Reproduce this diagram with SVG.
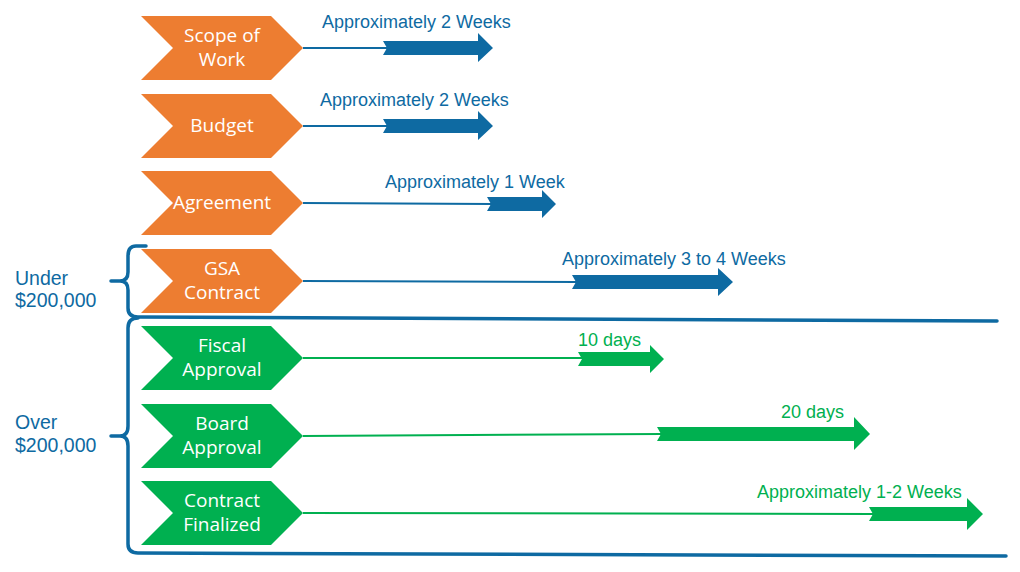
<svg xmlns="http://www.w3.org/2000/svg" width="1020" height="572" viewBox="0 0 1020 572">
<defs>
<style>
.chev-o{fill:#ed7d31}
.chev-g{fill:#00b050}
.ctext{font-family:"Open Sans","Noto Sans","Liberation Sans",sans-serif;font-size:19px;fill:#ffffff;text-anchor:middle}
.lab{font-family:"Liberation Sans",Arial,sans-serif;font-size:18px}
.blue{fill:#0e6aa2}
.green{fill:#00b050}
.lb{stroke:#0e6aa2;stroke-width:2;fill:none}
.lg{stroke:#00b050;stroke-width:2;fill:none}
.br{stroke:#0e6aa2;stroke-width:3.5;fill:none;stroke-linecap:round;stroke-linejoin:round}
.side{font-family:"Liberation Sans",Arial,sans-serif;font-size:19.5px;fill:#0e6aa2}
</style>
</defs>
<rect width="1020" height="572" fill="#ffffff"/>

<g id="brackets">
<path class="br" d="M146,246 L136,246 Q128,246 128,256 L128,272 Q128,281 120,281 L111,281 M120,281 Q128,281 128,290 L128,308 Q128,317 138,317 L997,321"/>
<path class="br" d="M138,318 Q128,318 128,328 L128,426 Q128,436 120,436 L111,436 M120,436 Q128,436 128,446 L128,544 Q128,553 138,553 L1006,556"/>
</g>

<g id="side-labels">
<text class="side" x="15" y="285">Under</text>
<text class="side" x="15" y="307">$200,000</text>
<text class="side" x="15" y="429">Over</text>
<text class="side" x="15" y="452">$200,000</text>
</g>

<g id="connectors">
<line class="lb" x1="303" y1="48" x2="388" y2="48"/>
<path class="blue" d="M383,41 L478,41 L478,33 L493,48 L478,62 L478,55 L383,55 L387,48 Z"/>
<line class="lb" x1="303" y1="126" x2="388" y2="126"/>
<path class="blue" d="M383,119 L478,119 L478,111 L493,126 L478,140 L478,133 L383,133 L387,126 Z"/>
<line class="lb" x1="303" y1="203" x2="492" y2="204"/>
<path class="blue" d="M487,197 L542,197 L542,190 L556,204 L542,218 L542,211 L487,211 L491,204 Z"/>
<line class="lb" x1="303" y1="281" x2="577" y2="282"/>
<path class="blue" d="M572,275 L718,275 L718,268 L733,282 L718,296 L718,289 L572,289 L576,282 Z"/>
<line class="lg" x1="303" y1="358" x2="583" y2="358"/>
<path class="green" d="M578,352 L650,352 L650,345 L664,359 L650,373 L650,366 L578,366 L582,359 Z"/>
<line class="lg" x1="303" y1="436" x2="662" y2="434"/>
<path class="green" d="M657,427 L854,427 L854,417 L870,434 L854,450 L854,441 L657,441 L661,434 Z"/>
<line class="lg" x1="303" y1="513" x2="874" y2="514"/>
<path class="green" d="M869,507 L967,507 L967,498 L983,514 L967,530 L967,521 L869,521 L873,514 Z"/>
</g>

<g id="duration-labels" class="lab">
<text class="blue" x="322" y="28">Approximately 2 Weeks</text>
<text class="blue" x="320" y="106">Approximately 2 Weeks</text>
<text class="blue" x="385" y="188">Approximately 1 Week</text>
<text class="blue" x="562" y="265">Approximately 3 to 4 Weeks</text>
<text class="green" x="578" y="346">10 days</text>
<text class="green" x="781" y="418">20 days</text>
<text class="green" x="757" y="498">Approximately 1-2 Weeks</text>
</g>

<g id="scope-of-work">
<polygon class="chev-o" points="141,16 271,16 303,48 271,80 141,80 173,48"/>
<text class="ctext" x="222" y="42">Scope of</text>
<text class="ctext" x="222" y="66">Work</text>
</g>
<g id="budget">
<polygon class="chev-o" points="141,94 271,94 303,126 271,158 141,158 173,126"/>
<text class="ctext" x="222" y="132">Budget</text>
</g>
<g id="agreement">
<polygon class="chev-o" points="141,171 271,171 303,203 271,235 141,235 173,203"/>
<text class="ctext" x="222" y="209">Agreement</text>
</g>
<g id="gsa-contract">
<polygon class="chev-o" points="141,249 271,249 303,281 271,313 141,313 173,281"/>
<text class="ctext" x="222" y="275">GSA</text>
<text class="ctext" x="222" y="299">Contract</text>
</g>
<g id="fiscal-approval">
<polygon class="chev-g" points="141,326 271,326 303,358 271,390 141,390 173,358"/>
<text class="ctext" x="222" y="352">Fiscal</text>
<text class="ctext" x="222" y="376">Approval</text>
</g>
<g id="board-approval">
<polygon class="chev-g" points="141,404 271,404 303,436 271,468 141,468 173,436"/>
<text class="ctext" x="222" y="430">Board</text>
<text class="ctext" x="222" y="454">Approval</text>
</g>
<g id="contract-finalized">
<polygon class="chev-g" points="141,481 271,481 303,513 271,545 141,545 173,513"/>
<text class="ctext" x="222" y="507">Contract</text>
<text class="ctext" x="222" y="531">Finalized</text>
</g>
</svg>
